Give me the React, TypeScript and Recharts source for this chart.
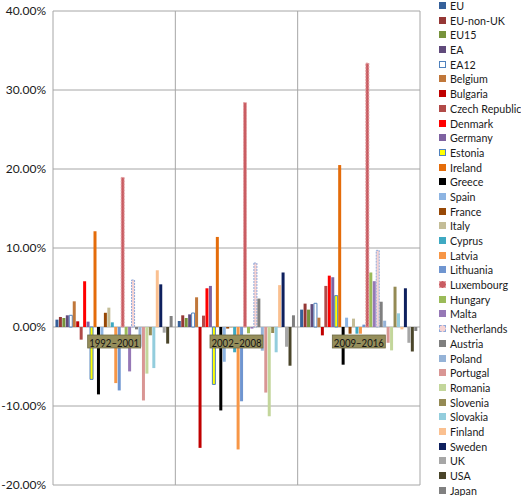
import React from 'react';
import { BarChart, Bar, XAxis, YAxis, CartesianGrid, Legend, ReferenceDot } from 'recharts';

const PERIODS = ['1992–2001', '2002–2008', '2009–2016'];

const SERIES_NAMES = [
  'EU', 'EU-non-UK', 'EU15', 'EA', 'EA12', 'Belgium', 'Bulgaria', 'Czech Republic',
  'Denmark', 'Germany', 'Estonia', 'Ireland', 'Greece', 'Spain', 'France', 'Italy',
  'Cyprus', 'Latvia', 'Lithuania', 'Luxembourg', 'Hungary', 'Malta', 'Netherlands',
  'Austria', 'Poland', 'Portugal', 'Romania', 'Slovenia', 'Slovakia', 'Finland',
  'Sweden', 'UK', 'USA', 'Japan',
];

// values in percent, one entry per series (same order as SERIES_NAMES)
const VALUES_1992_2001 = [
  0.93, 1.27, 1.14, 1.48, 1.48, 3.25, 0.72, -1.6, 5.79, 0.68, -6.63, 12.12, -8.53, -1.5, 1.8, 2.45,
  0.59, -7.1, -8.03, 18.93, -1.0, -5.62, 5.95, -0.3, -2.5, -9.3, -5.9, -1.05, -5.2, 7.18,
  5.4, -0.72, -2.1, 1.39,
];
const VALUES_2002_2008 = [
  0.76, 1.48, 1.14, 1.6, 1.77, 3.76, -15.3, 1.44, 4.9, 5.2, -7.27, 11.4, -10.56, -4.4, -0.2, -0.1,
  -3.2, -15.5, -9.4, 28.4, -0.8, -0.2, 8.1, 3.6, -3.0, -8.3, -11.3, -0.76, -3.2, 5.3,
  6.9, -2.5, -4.9, 1.48,
];
const VALUES_2009_2016 = [
  2.2, 2.96, 2.2, 2.9, 3.0, 1.18, -1.06, 5.2, 6.5, 6.3, 3.97, 20.5, -4.77, 1.18, -0.85, 1.06,
  -0.85, -0.85, 0.3, 33.4, 6.9, 5.8, 9.7, 3.2, 0.8, -2.0, -2.96, 5.1, 1.73, -0.3,
  4.9, -2.0, -3.1, -0.5,
];

const FILLS = [
  '#35609A', '#953735', '#77933C', '#604A7B', '#FFFFFF', '#C0773A', '#C00000', '#B14A48',
  '#FF0000', '#7E62A1', '#FFFF00', '#E46C0A', '#000000', '#8DB4E2', '#974806', '#C4BD97',
  '#3EA9C2', '#F79646', '#6F95D0', '#C95C62', '#9BBB59', '#9678B6', '#F6D3D3',
  '#7F7F7F', '#95B3D7', '#D99694', '#C3D69B', '#948A54', '#93CDDD', '#FAC090',
  '#0E205E', '#A6A6A6', '#4A452A', '#808080',
];
const STROKES: (string | null)[] = SERIES_NAMES.map(() => null);
STROKES[4] = '#4F81BD';
STROKES[10] = '#4F81BD';
STROKES[19] = '#E3A0A3';
STROKES[22] = '#8EA9DB';
const DASHES: (string | undefined)[] = SERIES_NAMES.map(() => undefined);
DASHES[19] = '2 1';
DASHES[22] = '2 1';

const Y_TICKS = [-20, -10, 0, 10, 20, 30, 40];

const PERIOD_VALUES = [VALUES_1992_2001, VALUES_2002_2008, VALUES_2009_2016];
const data = PERIODS.map((period, pi) => {
  const row: Record<string, string | number> = { period };
  SERIES_NAMES.forEach((_, si) => {
    row['s' + si] = PERIOD_VALUES[pi][si];
  });
  return row;
});

const FONT = 'Lato, "Liberation Sans", sans-serif';

const renderLegend = () => (
  <div style={{ fontFamily: FONT, fontSize: 10.7, color: '#1a1a1a' }}>
    {SERIES_NAMES.map((name, i) => (
      <div key={name} style={{ display: 'flex', alignItems: 'center', height: 14.69, whiteSpace: 'nowrap' }}>
        <span
          style={{
            display: 'inline-block',
            width: 7,
            height: 7,
            boxSizing: 'border-box',
            background: FILLS[i],
            border: STROKES[i] ? `1px ${DASHES[i] ? 'dashed' : 'solid'} ${STROKES[i]}` : 'none',
            marginRight: 4,
            flexShrink: 0,
          }}
        />
        <span style={{ lineHeight: '11px' }}>{name}</span>
      </div>
    ))}
  </div>
);

const PeriodLabel = (props: any) => {
  const { cx, cy, text } = props;
  if (cx == null || cy == null) return null;
  return (
    <g>
      <rect x={cx - 26.5} y={cy + 8} width={53} height={13} fill="#958E5B" stroke="#6E6A45" strokeWidth={0.8} />
      <text
        x={cx}
        y={cy + 15}
        textAnchor="middle"
        dominantBaseline="central"
        fontSize={12}
        fontFamily={FONT}
        fill="#141414"
        textLength={50}
        lengthAdjust="spacingAndGlyphs"
      >
        {text}
      </text>
    </g>
  );
};

export default function App() {
  return (
    <div style={{ position: 'absolute', left: 0, top: 0, width: 521, height: 496, background: '#fff' }}>
      <BarChart
        width={521}
        height={496}
        data={data}
        margin={{ top: 11, right: 101, bottom: 11, left: 5 }}
        barCategoryGap="2%"
        barGap={0.46}
      >
        <CartesianGrid
          stroke="#A6A6A6"
          horizontal
          verticalCoordinatesGenerator={({ offset }: any) =>
            [0, 1, 2, 3].map((k) => offset.left + (k * offset.width) / PERIODS.length)
          }
        />
        <XAxis dataKey="period" hide />
        <YAxis
          width={48}
          domain={[-20, 40]}
          ticks={Y_TICKS}
          interval={0}
          tickFormatter={(v: number) => v.toFixed(2) + '%'}
          axisLine={false}
          tickLine={false}
          tickSize={5}
          tick={{ fontSize: 12, fontFamily: FONT, fill: '#1a1a1a' }}
        />
        {SERIES_NAMES.map((name, i) => (
          <Bar
            key={name}
            dataKey={'s' + i}
            name={name}
            fill={FILLS[i]}
            stroke={STROKES[i] || undefined}
            strokeWidth={STROKES[i] ? 1 : 0}
            strokeDasharray={DASHES[i]}
            isAnimationActive={false}
          />
        ))}
        {PERIODS.map((p) => (
          <ReferenceDot
            key={p}
            x={p}
            y={0}
            ifOverflow="visible"
            shape={(props: any) => <PeriodLabel {...props} text={p} />}
          />
        ))}
        <Legend
          layout="vertical"
          align="center"
          verticalAlign="middle"
          content={renderLegend}
          wrapperStyle={{ left: 439, top: -1.85, width: 82, right: 'auto', bottom: 'auto' }}
        />
      </BarChart>
    </div>
  );
}
